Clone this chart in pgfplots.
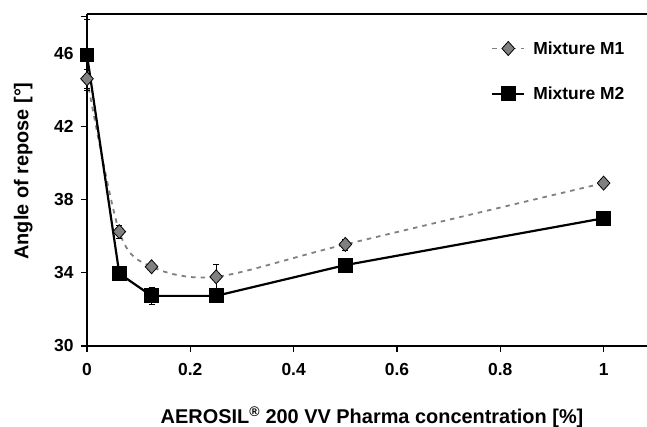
\documentclass[border=0pt]{standalone}
\usepackage{pgfplots}
\pgfplotsset{compat=1.18}
\usepackage{fontspec}
\setmainfont{Liberation Sans}
\definecolor{mgray}{RGB}{128,128,128}
\begin{document}
\begin{tikzpicture}
\begin{axis}[
  scale only axis,
  width=560bp, height=332bp,
  xmin=0, xmax=1.084, ymin=30, ymax=48.14,
  axis x line*=box, axis y line*=left,
  axis line style={line width=1.2bp, black},
  xtick={0,0.2,0.4,0.6,0.8,1},
  xticklabels={0,0.2,0.4,0.6,0.8,1},
  xtick pos=bottom,
  ytick={30,34,38,42,46},
  extra y ticks={48}, extra y tick labels={},
  tick align=outside,
  major tick length=6bp,
  tick style={line width=1.2bp, black},
  tick label style={font=\fontsize{17.5}{20}\selectfont\bfseries},
  /pgf/number format/assume math mode=true,
  xticklabel style={yshift=-8bp},
  yticklabel style={xshift=-4bp},
  xlabel={AEROSIL\textsuperscript{\textregistered} 200 VV Pharma concentration [\%]},
  ylabel={Angle of repose [°]},
  label style={font=\fontsize{20}{23}\selectfont\bfseries},
  xlabel style={at={(axis description cs:0.509,-0.214)}, anchor=center},
  ylabel style={at={(axis description cs:-0.114,0.527)}, anchor=center},
  legend style={draw=none, fill=none, at={(0.716,0.93)}, anchor=north west,
    font=\fontsize{17.5}{20}\selectfont\bfseries, row sep=27bp, column sep=6bp,
    legend cell align=left},
  legend image code/.code={\draw[mark repeat=2,mark phase=2,#1] plot coordinates {(0bp,0bp)(16bp,0bp)(32bp,0bp)};},
  clip=false,
]
\addplot[mgray, line width=1.8bp, dash pattern=on 4.5bp off 5bp, smooth, tension=0.5,
  mark=diamond*, mark size=7bp,
  mark options={solid, fill=mgray, draw=black, line width=0.8bp, xscale=1.2},
  error bars/.cd, y dir=both, y explicit,
  error bar style={solid, black, line width=0.8bp},
  error mark options={rotate=90, mark size=3bp, solid, black, line width=0.8bp}]
  coordinates {
  (0,44.6) +- (0,0.5)
  (0.0625,36.25) +- (0,0.35)
  (0.125,34.33) +- (0,0.1)
  (0.25,33.78) +- (0,0.7)
  (0.5,35.55) +- (0,0.3)
  (1,38.9) +- (0,0.1)
  };
\addlegendentry{Mixture M1}
\addplot[black, line width=2.2bp,
  mark=square*, mark size=6.3bp, mark options={solid, fill=black},
  error bars/.cd, y dir=both, y explicit,
  error bar style={black, line width=0.8bp},
  error mark options={rotate=90, mark size=3bp, black, line width=0.8bp}]
  coordinates {
  (0,45.9) +- (0,1.95)
  (0.0625,33.96) +- (0,0.1)
  (0.125,32.74) +- (0,0.45)
  (0.25,32.74) +- (0,0.2)
  (0.5,34.42) +- (0,0.2)
  (1,36.98) +- (0,0.1)
  };
\addlegendentry{Mixture M2}
\end{axis}
\pgfresetboundingbox
\path (-87bp,-81bp) rectangle (560bp,346bp);
\end{tikzpicture}
\end{document}
